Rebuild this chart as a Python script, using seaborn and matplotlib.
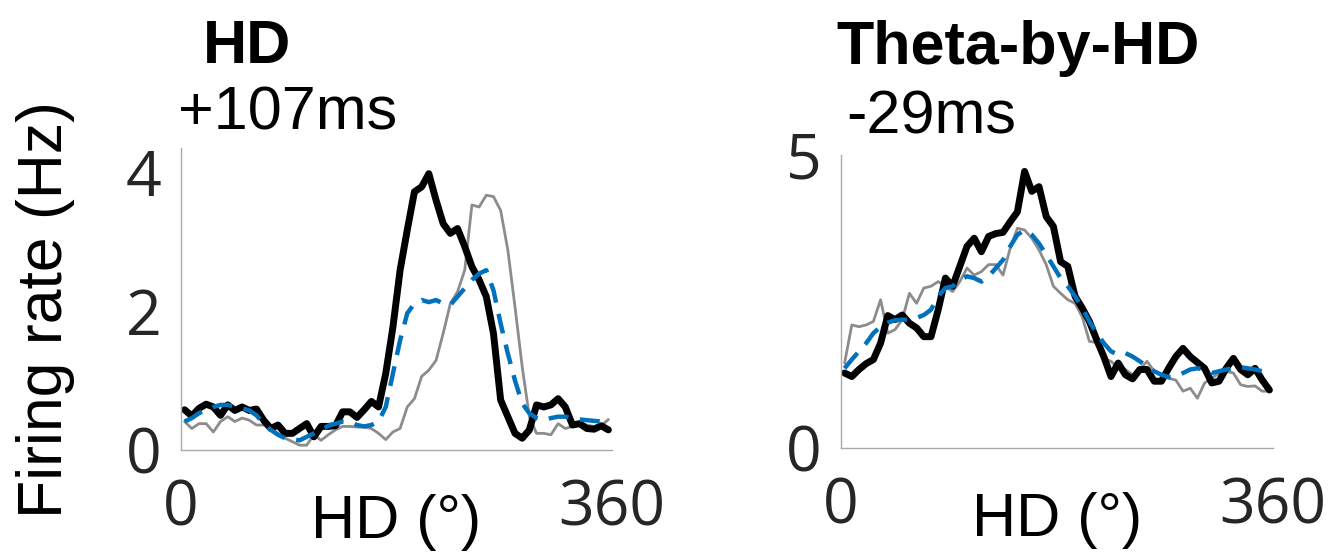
import numpy as np
import pandas as pd
from matplotlib import pyplot as plt
import seaborn as sns

# bin centres (deg), 6 deg bins
hd_bins = [3 + 6 * k for k in range(60)]

# HD cell (left panel)
hd_black = [0.58, 0.49, 0.60, 0.66, 0.62, 0.50, 0.65, 0.57, 0.62, 0.57,
            0.59, 0.43, 0.31, 0.36, 0.24, 0.24, 0.31, 0.38, 0.19, 0.34,
            0.34, 0.35, 0.55, 0.55, 0.47, 0.58, 0.70, 0.62, 1.10, 1.77,
            2.59, 3.17, 3.72, 3.79, 3.98, 3.60, 3.26, 3.12, 3.19, 2.93,
            2.64, 2.45, 2.21, 1.68, 0.72, 0.48, 0.24, 0.17, 0.29, 0.65,
            0.62, 0.65, 0.74, 0.62, 0.36, 0.38, 0.31, 0.30, 0.35, 0.29]
hd_gray = [0.41, 0.31, 0.38, 0.38, 0.26, 0.41, 0.48, 0.41, 0.46, 0.43,
           0.36, 0.36, 0.31, 0.24, 0.17, 0.12, 0.07, 0.07, 0.22, 0.14,
           0.22, 0.29, 0.34, 0.34, 0.33, 0.33, 0.31, 0.24, 0.15, 0.26,
           0.31, 0.62, 0.74, 1.06, 1.15, 1.29, 1.68, 2.11, 2.28, 2.59,
           3.53, 3.50, 3.67, 3.65, 3.45, 2.88, 2.06, 1.20, 0.48, 0.24,
           0.24, 0.22, 0.38, 0.31, 0.34, 0.38, 0.36, 0.34, 0.35, 0.44]
hd_blue = [0.41, 0.46, 0.53, 0.58, 0.62, 0.65, 0.65, 0.62, 0.60, 0.57,
           0.50, 0.38, 0.29, 0.22, 0.17, 0.15, 0.14, 0.19, 0.24, 0.29,
           0.35, 0.38, 0.41, 0.41, 0.36, 0.34, 0.36, 0.41, 0.62, 1.10,
           1.58, 1.97, 2.11, 2.16, 2.13, 2.16, 2.11, 2.09, 2.21, 2.33,
           2.45, 2.54, 2.59, 2.30, 1.82, 1.39, 1.00, 0.67, 0.53, 0.46,
           0.43, 0.46, 0.48, 0.48, 0.46, 0.44, 0.43, 0.42, 0.41, 0.38]

# Theta-by-HD cell (right panel)
th_black = [1.28, 1.22, 1.34, 1.44, 1.51, 1.79, 2.26, 2.19, 2.27, 2.13,
            2.05, 1.90, 1.90, 2.36, 2.90, 2.76, 3.10, 3.44, 3.58, 3.35,
            3.61, 3.66, 3.68, 3.86, 4.03, 4.72, 4.38, 4.46, 3.95, 3.78,
            3.18, 3.10, 2.59, 2.39, 2.16, 1.85, 1.56, 1.22, 1.45, 1.25,
            1.18, 1.34, 1.34, 1.14, 1.14, 1.36, 1.56, 1.70, 1.56, 1.46,
            1.36, 1.11, 1.14, 1.36, 1.53, 1.34, 1.25, 1.36, 1.16, 0.99]
th_gray = [1.45, 2.10, 2.07, 2.10, 2.16, 2.53, 1.96, 2.02, 2.19, 2.64,
           2.47, 2.73, 2.76, 2.84, 2.76, 2.67, 2.84, 3.07, 2.95, 3.01,
           3.13, 3.13, 2.95, 3.41, 3.75, 3.72, 3.58, 3.38, 3.13, 2.76,
           2.64, 2.53, 2.47, 2.24, 1.82, 1.80, 1.53, 1.48, 1.36, 1.34,
           1.25, 1.34, 1.48, 1.31, 1.25, 1.19, 1.16, 0.97, 1.02, 0.85,
           1.11, 1.19, 1.28, 1.31, 1.28, 1.08, 1.05, 1.06, 0.97, 0.97]
th_blue = [1.36, 1.51, 1.65, 1.79, 1.96, 2.07, 2.14, 2.18, 2.19, 2.19,
           2.22, 2.27, 2.36, 2.59, 2.73, 2.76, 2.87, 2.93, 2.90, 2.84,
           2.93, 3.07, 3.21, 3.44, 3.64, 3.72, 3.64, 3.49, 3.30, 3.10,
           2.90, 2.76, 2.59, 2.39, 2.16, 1.96, 1.79, 1.65, 1.59, 1.62,
           1.56, 1.48, 1.39, 1.31, 1.25, 1.21, 1.22, 1.28, 1.34, 1.36,
           1.34, 1.28, 1.31, 1.34, 1.36, 1.38, 1.36, 1.34, 1.31, 1.28]

panel_titles = ["HD", "Theta-by-HD"]
panel_lags = ["+107ms", "-29ms"]

sns.set_style("white")
plt.rcParams['font.family'] = ['Open Sans', 'DejaVu Sans']
plt.rcParams['text.color'] = 'black'
plt.rcParams['axes.labelcolor'] = 'black'

fig = plt.figure(figsize=(13.33, 5.58), dpi=100)
ax1 = fig.add_axes([0.1358, 0.1935, 0.3233, 0.5413])
ax2 = fig.add_axes([0.6309, 0.1971, 0.3241, 0.5251])

spine_col = "#aaaaaa"
tick_col = "#262626"
arial = ['Liberation Sans', 'DejaVu Sans']


def draw(ax, black, gray, blue, ytop, yticks):
    sns.lineplot(x=hd_bins, y=gray, ax=ax, color="#8c8c8c")
    ax.lines[-1].set_linewidth(2.0)
    sns.lineplot(x=hd_bins, y=black, ax=ax, color="black")
    ax.lines[-1].set_linewidth(5.0)
    sns.lineplot(x=hd_bins, y=blue, ax=ax, color="#0072BD")
    ax.lines[-1].set_linewidth(3.2)
    ax.lines[-1].set_dashes((4.5, 2.6))
    ax.set_xlim(0, 360)
    ax.set_ylim(0, ytop)
    ax.set_xticks([0, 360])
    ax.set_yticks(yticks)
    for s in ["top", "right"]:
        ax.spines[s].set_visible(False)
    for s in ["left", "bottom"]:
        ax.spines[s].set_color(spine_col)
        ax.spines[s].set_linewidth(1.0)
    ax.tick_params(axis="both", direction="in", length=3, width=0.8,
                   color=spine_col, labelsize=45, labelcolor=tick_col)
    ax.tick_params(axis="y", pad=14)
    ax.tick_params(axis="x", pad=20)
    ax.set_xlabel("HD (°)", fontsize=44, family=arial, labelpad=-33)
    ax.set_ylabel("")


draw(ax1, hd_black, hd_gray, hd_blue, 4.35, [0, 2, 4])
draw(ax2, th_black, th_gray, th_blue, 5, [0, 5])

fig.text(16 / 1333, 1 - 310 / 558, "Firing rate (Hz)", rotation=90,
         fontsize=45, family=arial, ha="left", va="center")

fig.text(203 / 1333, 1 - 63 / 558, panel_titles[0], fontsize=44,
         fontweight="bold", family=arial, ha="left", va="baseline")
fig.text(178 / 1333, 1 - 130 / 558, panel_lags[0], fontsize=44,
         family=arial, ha="left", va="baseline")
fig.text(836 / 1333, 1 - 64 / 558, panel_titles[1], fontsize=44,
         fontweight="bold", family=arial, ha="left", va="baseline")
fig.text(846 / 1333, 1 - 133 / 558, panel_lags[1], fontsize=44,
         family=arial, ha="left", va="baseline")

fig.savefig("out.png", dpi=100)
